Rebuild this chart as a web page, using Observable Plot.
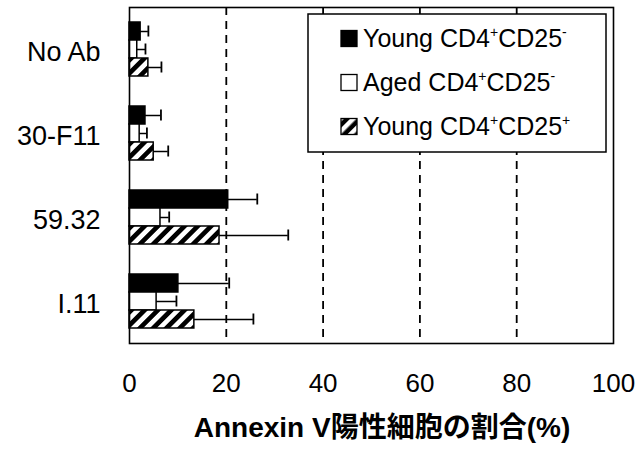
<!DOCTYPE html>
<html>
<head>
<meta charset="utf-8">
<script src="https://cdn.jsdelivr.net/npm/d3@7"></script>
<script src="https://cdn.jsdelivr.net/npm/@observablehq/plot@0.6"></script>
<style>
  body { margin: 0; background: #fff; }
  #wrap { position: relative; width: 643px; height: 450px; font-family: "Liberation Sans", Arial, "Noto Sans CJK JP", sans-serif; }
  #title { position: absolute; left: 0; top: 400px; width: 643px; height: 50px; box-sizing: border-box; padding-left: 121px;
           text-align: center; font-weight: bold; font-size: 28px; line-height: 50px; padding-top: 3px; color: #000;
           font-family: "Liberation Sans", Arial, "Noto Sans CJK JP", sans-serif; white-space: nowrap; }
  #legend { position: absolute; left: 0; top: 0; }
</style>
</head>
<body>
<div id="wrap"></div>
<script>
const categories = ["No Ab", "30-F11", "59.32", "I.11"];
const series = ["Young CD4+CD25-", "Aged CD4+CD25-", "Young CD4+CD25+"];
const young    = [2.3, 3.3, 20.4, 10.1];
const youngErr = [1.6, 3.2, 6.0, 10.5];
const aged     = [1.6, 2.1, 6.4, 5.6];
const agedErr  = [1.7, 1.5, 1.8, 4.1];
const treg     = [3.9, 5.0, 18.6, 13.4];
const tregErr  = [2.7, 3.0, 14.2, 12.2];
const xTicks = [0, 20, 40, 60, 80, 100];
const gridTicks = [20, 40, 60, 80];
const xLabel = "Annexin V陽性細胞の割合(%)";
const fills = ["black", "white", "url(#hatch)"];

const values = [young, aged, treg];
const errors = [youngErr, agedErr, tregErr];
const data = [];
categories.forEach((c, i) => series.forEach((s, j) => data.push({category: c, series: s, value: values[j][i], err: errors[j][i]})));

const font = '"Liberation Sans", Arial, "Noto Sans CJK JP", sans-serif';

const plot = Plot.plot({
  width: 643,
  height: 400,
  marginLeft: 129,
  marginRight: 30,
  marginTop: 7,
  marginBottom: 57,
  style: {fontFamily: font, color: "black", background: "white", overflow: "visible"},
  x: {domain: [0, 100], ticks: xTicks},
  y: {domain: series, paddingInner: 0, paddingOuter: 0.75, axis: null},
  fy: {domain: categories, padding: 0, axis: null},
  color: {domain: series, range: fills},
  marks: [
    Plot.ruleX(gridTicks, {stroke: "black", strokeWidth: 1.8, strokeDasharray: "8,6"}),
    Plot.barX(data, {fy: "category", y: "series", x: "value", fill: "series", stroke: "black", strokeWidth: 1.5}),
    Plot.ruleY(data, {fy: "category", y: "series", x1: "value", x2: d => d.value + d.err, stroke: "black", strokeWidth: 1.5}),
    Plot.tickX(data, {fy: "category", y: "series", x: d => d.value + d.err, insetTop: 3.5, insetBottom: 3.5, stroke: "black", strokeWidth: 1.8}),
    Plot.frame({facet: "super", stroke: "black", strokeWidth: 1.6}),
    Plot.axisFy({anchor: "left", tickSize: 0, tickPadding: 29, fontSize: 27, dy: 3, label: null}),
    Plot.axisX({anchor: "bottom", tickSize: 0, tickPadding: 30, fontSize: 26, label: null, ticks: xTicks})
  ]
});

// hatch pattern
const svg = d3.select(plot);
const defs = svg.insert("defs", ":first-child");
const pat = defs.append("pattern").attr("id", "hatch").attr("patternUnits", "userSpaceOnUse")
  .attr("width", 9.4).attr("height", 9.4).attr("patternTransform", "rotate(45)");
pat.append("rect").attr("width", 9.4).attr("height", 9.4).attr("fill", "white");
pat.append("rect").attr("width", 4.7).attr("height", 9.4).attr("fill", "black");

const wrap = document.getElementById("wrap");
wrap.appendChild(plot);

// legend inside plot area
const lg = d3.select(wrap).append("svg").attr("id", "legend").attr("width", 643).attr("height", 450);
const ldefs = lg.append("defs");
const lp = ldefs.append("pattern").attr("id", "hatchL").attr("patternUnits", "userSpaceOnUse")
  .attr("width", 9).attr("height", 9).attr("patternTransform", "translate(341,118) rotate(45)");
lp.append("rect").attr("width", 9).attr("height", 9).attr("fill", "white");
lp.append("rect").attr("x", 2.5).attr("width", 4.5).attr("height", 9).attr("fill", "black");
const legendFills = ["black", "white", "url(#hatchL)"];
lg.append("rect").attr("x", 308).attr("y", 14).attr("width", 298).attr("height", 138)
  .attr("fill", "white").attr("stroke", "black").attr("stroke-width", 1.5);
series.forEach((s, i) => {
  const cy = 38.5 + i * 44;
  lg.append("rect").attr("x", 341).attr("y", cy - 8).attr("width", 16).attr("height", 16)
    .attr("fill", legendFills[i]).attr("stroke", "black").attr("stroke-width", 1.3);
  const m = s.match(/^(.*CD4)([+-])(CD25)([+-])$/);
  const t = lg.append("text").attr("x", 363).attr("y", cy + 8.5).attr("font-size", 25)
    .attr("font-family", font).attr("fill", "black");
  t.append("tspan").text(m[1]);
  t.append("tspan").attr("font-size", 14).attr("dy", -10).text(m[2]);
  t.append("tspan").attr("dy", 10).text(m[3]);
  t.append("tspan").attr("font-size", 14).attr("dy", -10).text(m[4]);
});

const title = document.createElement("div");
title.id = "title";
title.textContent = xLabel;
wrap.appendChild(title);
</script>
</body>
</html>
